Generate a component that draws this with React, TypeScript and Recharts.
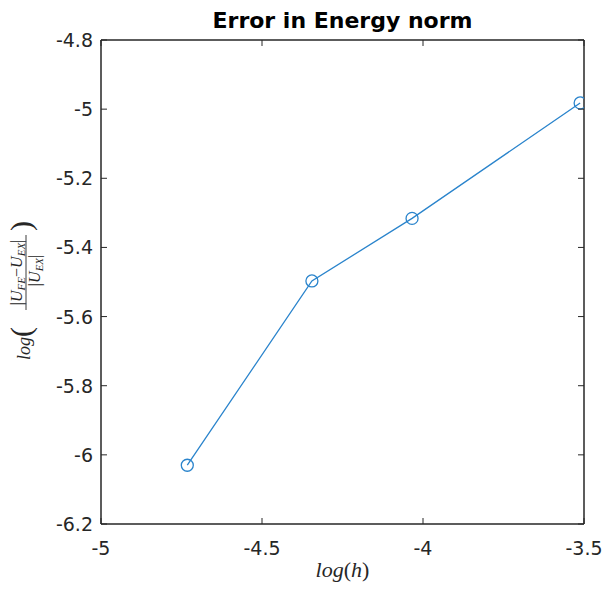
import React from "react";
import { LineChart, Line, XAxis, YAxis } from "recharts";

// values
const logH = [-4.732, -4.345, -4.034, -3.512];
const logErr = [-6.03, -5.497, -5.316, -4.982];

const xTicks = [-5, -4.5, -4, -3.5];
const yTicks = [-6.2, -6, -5.8, -5.6, -5.4, -5.2, -5, -4.8];

const data = logH.map((h, i) => ({ h, err: logErr[i] }));

const ink = "#262626";
const blue = "#2a84cc";
const sans = "DejaVu Sans, sans-serif";
const serif = "Liberation Serif, DejaVu Serif, serif";
const tickLen = 6;
const fs = 19;
const noSize = 0.001; // 0 is treated as "use default", so keep it tiny

// matlab style ticks: mark points into the box, label sits outside
const BottomTick = (props: any) => {
  const { x, y, payload } = props;
  return (
    <g>
      <line x1={x} x2={x} y1={y} y2={y - tickLen} stroke={ink} />
      <text x={x} y={y + 31} textAnchor="middle" fill={ink} fontSize={fs} fontFamily={sans}>
        {payload.value}
      </text>
    </g>
  );
};

const LeftTick = (props: any) => {
  const { x, y, payload } = props;
  return (
    <g>
      <line x1={x} x2={x + tickLen} y1={y} y2={y} stroke={ink} />
      <text x={x - 8} y={y + 7} textAnchor="end" fill={ink} fontSize={fs} fontFamily={sans}>
        {payload.value}
      </text>
    </g>
  );
};

const TopTick = (props: any) => {
  const { x, y } = props;
  return <line x1={x} x2={x} y1={y} y2={y + tickLen} stroke={ink} />;
};

const RightTick = (props: any) => {
  const { x, y } = props;
  return <line x1={x} x2={x - tickLen} y1={y} y2={y} stroke={ink} />;
};

// title sits on the top axis
const Title = (props: any) => {
  const { x, y, width } = props.viewBox;
  return (
    <text
      x={x + width / 2}
      y={y - 11}
      textAnchor="middle"
      fontFamily={sans}
      fontWeight="bold"
      fontSize={22}
      fill="#000"
    >
      Error in Energy norm
    </text>
  );
};

const XLabel = (props: any) => {
  const { x, width } = props.viewBox;
  return (
    <text
      x={x + width / 2}
      y={577}
      textAnchor="middle"
      fontFamily={serif}
      fontSize={22}
      fill={ink}
    >
      <tspan fontStyle="italic">log</tspan>
      <tspan>(</tspan>
      <tspan fontStyle="italic">h</tspan>
      <tspan>)</tspan>
    </text>
  );
};

// log( |U_FE - U_EX| / |U_EX| ) written bottom to top
const YLabel = (props: any) => {
  const { y, height } = props.viewBox;
  const cy = y + height / 2 + 4;
  return (
    <g transform={`translate(27, ${cy}) rotate(-90)`} fill={ink} fontFamily={serif}>
      <text x={-74} y={3} fontSize={18} fontStyle="italic">
        log
      </text>
      <text x={-46} y={4} fontSize={30} textAnchor="middle">
        (
      </text>
      <text x={13} y={-5} fontSize={16} textAnchor="middle" fontStyle="italic">
        |U
        <tspan fontSize={11} dy={3}>FE</tspan>
        <tspan dy={-3} fontStyle="normal">−</tspan>
        <tspan>U</tspan>
        <tspan fontSize={11} dy={3}>EX</tspan>
        <tspan dy={-3} fontStyle="normal">|</tspan>
      </text>
      <line x1={-24} x2={51} y1={-1} y2={-1} stroke={ink} strokeWidth={0.9} />
      <text x={15} y={13} fontSize={16} textAnchor="middle" fontStyle="italic">
        |U
        <tspan fontSize={11} dy={3}>EX</tspan>
        <tspan dy={-3} fontStyle="normal">|</tspan>
      </text>
      <text x={60} y={4} fontSize={30} textAnchor="middle">
        )
      </text>
    </g>
  );
};

export default function App() {
  return (
    <div style={{ position: "absolute", left: 0, top: 0, background: "#fff" }}>
      <LineChart
        width={607}
        height={591}
        data={data}
        margin={{ top: 39, right: 22, bottom: 37, left: 41 }}
      >
        <XAxis
          dataKey="h"
          type="number"
          domain={[-5, -3.5]}
          ticks={xTicks}
          allowDataOverflow
          height={30}
          stroke={ink}
          strokeWidth={1.5}
          tickLine={false}
          tickSize={noSize}
          tickMargin={0}
          tick={BottomTick}
          label={{ content: XLabel }}
        />
        <XAxis
          xAxisId="top"
          dataKey="h"
          orientation="top"
          type="number"
          domain={[-5, -3.5]}
          ticks={xTicks}
          allowDataOverflow
          height={1}
          stroke={ink}
          strokeWidth={1.5}
          tickLine={false}
          tickSize={noSize}
          tickMargin={0}
          tick={TopTick}
          label={{ content: Title }}
        />
        <YAxis
          type="number"
          domain={[-6.2, -4.8]}
          ticks={yTicks}
          allowDataOverflow
          width={60}
          stroke={ink}
          strokeWidth={1.5}
          tickLine={false}
          tickSize={noSize}
          tickMargin={0}
          tick={LeftTick}
          label={{ content: YLabel }}
        />
        <YAxis
          yAxisId="right"
          orientation="right"
          type="number"
          domain={[-6.2, -4.8]}
          ticks={yTicks}
          allowDataOverflow
          width={1}
          stroke={ink}
          strokeWidth={1.5}
          tickLine={false}
          tickSize={noSize}
          tickMargin={0}
          tick={RightTick}
        />
        {/* invisible copy so the top/right frame axes get a scale */}
        <Line
          xAxisId="top"
          yAxisId="right"
          dataKey="err"
          stroke="none"
          dot={false}
          activeDot={false}
          legendType="none"
          isAnimationActive={false}
        />
        <Line
          dataKey="err"
          stroke={blue}
          strokeWidth={1.3}
          dot={{ r: 6, stroke: blue, strokeWidth: 1.3, fill: "none" }}
          isAnimationActive={false}
        />
      </LineChart>
    </div>
  );
}
